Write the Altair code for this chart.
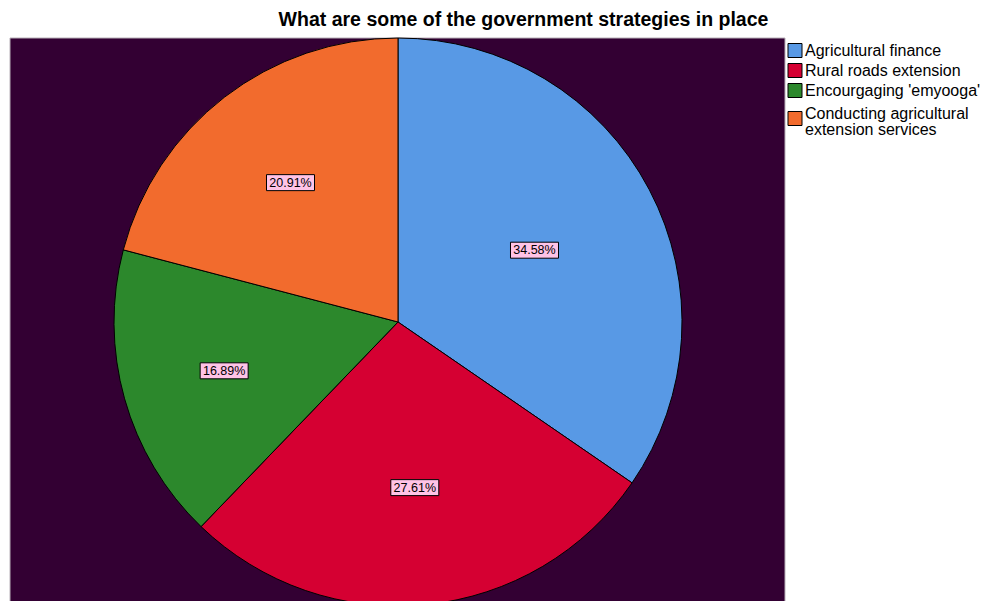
import altair as alt
import pandas as pd

categories = [
    "Agricultural finance",
    "Rural roads extension",
    "Encourgaging 'emyooga'",
    "Conducting agricultural extension services",
]
percentages = [34.58, 27.61, 16.89, 20.91]
colors = ["#5899E5", "#D50032", "#2C882C", "#F26B2D"]

df = pd.DataFrame({"category": categories, "pct": percentages, "order": list(range(len(categories)))})

CX, CY, R = 398, 284, 284
FONT = "Liberation Sans"
color_scale = alt.Scale(domain=categories, range=colors)

bg = alt.Chart(pd.DataFrame({"a": [0]})).mark_rect(
    color="#330033", stroke="#b8b0b8", strokeWidth=1
).encode(x=alt.value(10), x2=alt.value(785), y=alt.value(0), y2=alt.value(575))

pie = alt.Chart(df).mark_arc(outerRadius=R, stroke="black", strokeWidth=1).encode(
    theta=alt.Theta("pct:Q", stack=True),
    order=alt.Order("order:Q"),
    color=alt.Color("category:N", scale=color_scale, legend=None),
    x=alt.value(CX),
    y=alt.value(CY),
)

# labels placed at the centroid of each wedge
base = alt.Chart(df).transform_joinaggregate(total="sum(pct)").transform_window(
    cum="sum(pct)", sort=[alt.SortField("order")], frame=[None, 0]
).transform_calculate(
    mid="(datum.cum - datum.pct/2) / datum.total * 2 * PI",
    half="datum.pct / datum.total * PI",
).transform_calculate(
    rr=f"2 * {R} * sin(datum.half) / (3 * datum.half)",
).transform_calculate(
    lx=f"{CX} + datum.rr * sin(datum.mid)",
    ly=f"{CY} - datum.rr * cos(datum.mid)",
    label="format(datum.pct, '.2f') + '%'",
).transform_calculate(
    bx1="datum.lx - 24", bx2="datum.lx + 24", by1="datum.ly - 8", by2="datum.ly + 8"
)

boxes = base.mark_rect(fill="#FFC3E6", stroke="black", strokeWidth=1).encode(
    x=alt.X("bx1:Q", scale=None, axis=None),
    x2="bx2:Q",
    y=alt.Y("by1:Q", scale=None, axis=None),
    y2="by2:Q",
)

texts = base.mark_text(font=FONT, fontSize=12.5, color="black").encode(
    x=alt.X("lx:Q", scale=None, axis=None),
    y=alt.Y("ly:Q", scale=None, axis=None),
    text="label:N",
)

# legend drawn as marks (SPSS-style, wrapped last entry)
leg = alt.Chart(df).transform_calculate(
    lab="length(datum.category) > 30 ? ['Conducting agricultural', 'extension services'] : [datum.category]",
).transform_calculate(
    nl="length(datum.lab)",
).transform_calculate(
    sy="12.5 + 20 * datum.order + 8 * (datum.nl - 1)",
).transform_calculate(
    sy1="datum.sy - 7", sy2="datum.sy + 7", sx1="788", sx2="802", tx="805",
    ty="datum.sy - 5 * (datum.nl - 1)",
)

leg_sw = leg.mark_rect(stroke="black", strokeWidth=1).encode(
    x=alt.X("sx1:Q", scale=None, axis=None),
    x2="sx2:Q",
    y=alt.Y("sy1:Q", scale=None, axis=None),
    y2="sy2:Q",
    color=alt.Color("category:N", scale=color_scale, legend=None),
)

leg_tx = leg.mark_text(font=FONT, fontSize=16, color="black", align="left", baseline="middle", lineHeight=16.5).encode(
    x=alt.X("tx:Q", scale=None, axis=None),
    y=alt.Y("ty:Q", scale=None, axis=None),
    text=alt.Text("lab:N"),
)

chart = alt.layer(bg, pie, boxes, texts, leg_sw, leg_tx).properties(
    width=983,
    height=563,
    padding={"left": 0, "top": 38, "right": 0, "bottom": 0},
    autosize="none",
    title=alt.TitleParams(
        "What are some of the government strategies in place",
        font=FONT, fontSize=19.5, fontWeight="bold", color="black",
        anchor="middle", dx=32, offset=6,
    ),
).configure_view(stroke=None)

chart.save("out.html", embed_options={"renderer": "svg", "actions": False})
